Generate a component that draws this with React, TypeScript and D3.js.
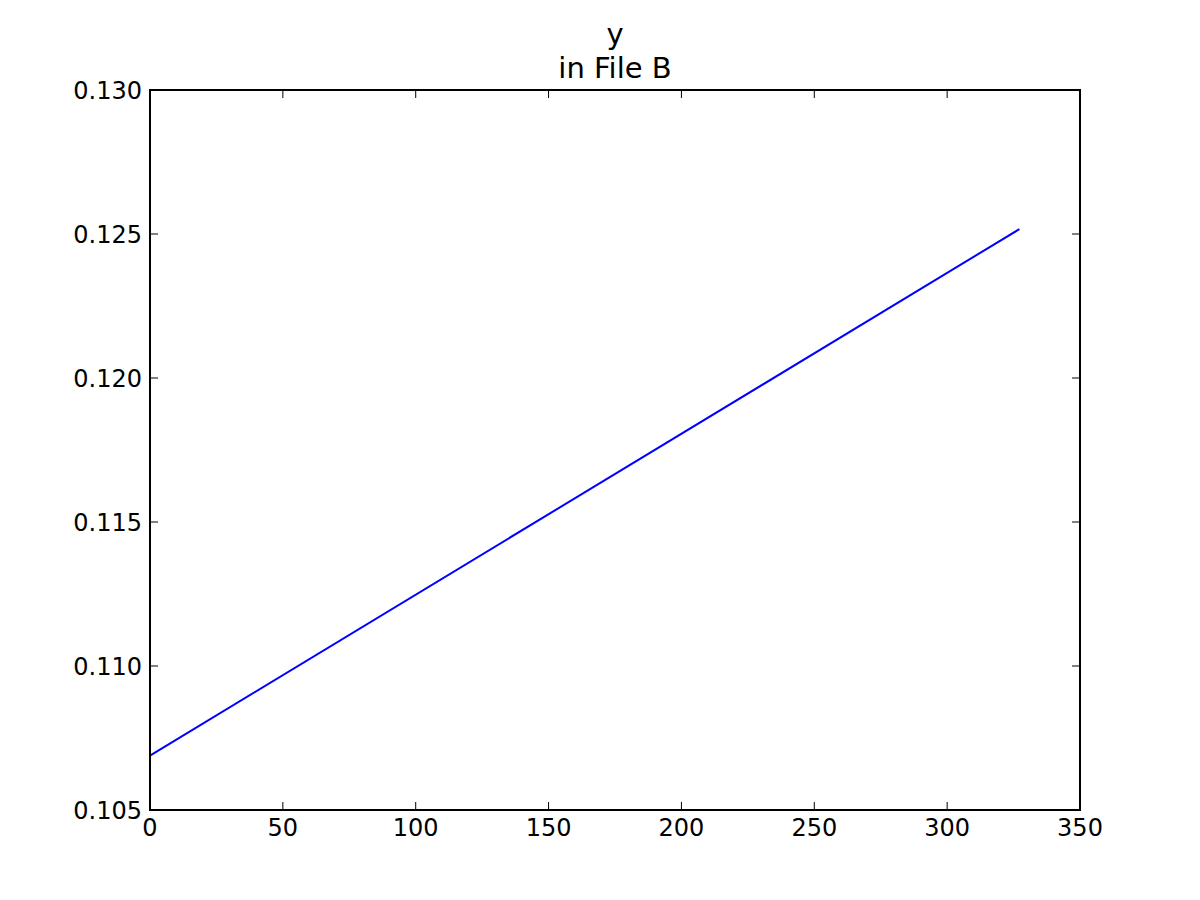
import React from "react";
import * as d3 from "d3";

const xValues = [0, 327.2];
const yValues = [0.10689, 0.12517];
const xTicks = [0, 50, 100, 150, 200, 250, 300, 350];
const yTicks = [0.105, 0.11, 0.115, 0.12, 0.125, 0.13];
const titleLines = ["y", "in File B"];

export default function App() {
  const W = 1200, H = 900;
  const L = 150, R = 1080, T = 90, B = 810;
  const x = d3.scaleLinear().domain([0, 350]).range([L, R]);
  const y = d3.scaleLinear().domain([0.105, 0.13]).range([B, T]);
  const pts: [number, number][] = xValues.map((v, i) => [v, yValues[i]]);
  const line = d3.line<[number, number]>().x(d => x(d[0])).y(d => y(d[1]));
  const tl = 8;
  const font = "DejaVu Sans, sans-serif";
  return (
    <svg width={W} height={H} style={{ position: "absolute", left: 0, top: 0, background: "#fff" }}>
      <rect x={0} y={0} width={W} height={H} fill="#fff" />
      <path d={line(pts) || ""} fill="none" stroke="#0000ff" strokeWidth={2} />
      <rect x={L} y={T} width={R - L} height={B - T} fill="none" stroke="#000" strokeWidth={2} />
      {xTicks.map(t => (
        <g key={"x" + t}>
          <line x1={x(t)} x2={x(t)} y1={B} y2={B - tl} stroke="#000" strokeWidth={1} />
          <line x1={x(t)} x2={x(t)} y1={T} y2={T + tl} stroke="#000" strokeWidth={1} />
          <text x={x(t)} y={836} textAnchor="middle" fontFamily={font} fontSize={24}>{t}</text>
        </g>
      ))}
      {yTicks.map(t => (
        <g key={"y" + t}>
          <line x1={L} x2={L + tl} y1={y(t)} y2={y(t)} stroke="#000" strokeWidth={1} />
          <line x1={R} x2={R - tl} y1={y(t)} y2={y(t)} stroke="#000" strokeWidth={1} />
          <text x={142} y={y(t) + 8.5} textAnchor="end" fontFamily={font} fontSize={24}>{t.toFixed(3)}</text>
        </g>
      ))}
      {titleLines.map((s, i) => (
        <text key={s} x={615} y={44 + i * 34} textAnchor="middle" fontFamily={font} fontSize={29}>{s}</text>
      ))}
    </svg>
  );
}
